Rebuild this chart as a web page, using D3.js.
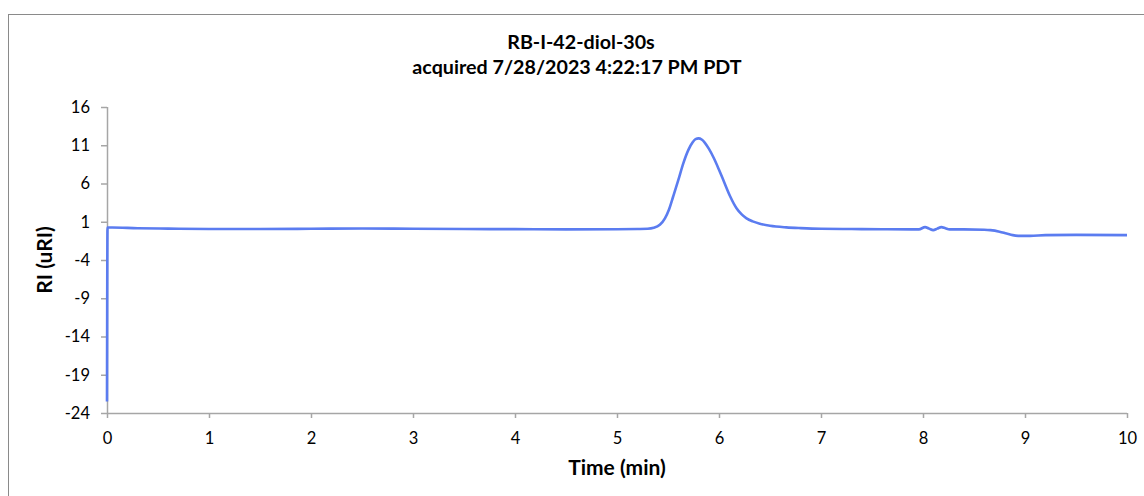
<!DOCTYPE html>
<html>
<head>
<meta charset="utf-8">
<script src="https://cdn.jsdelivr.net/npm/d3@7"></script>
<style>
  html, body { margin: 0; padding: 0; background: #fff; }
  svg { display: block; font-family: Lato, "Open Sans", sans-serif; }
</style>
</head>
<body>
<svg id="chart" width="1144" height="496"></svg>
<script>
const titleLines = ["RB-I-42-diol-30s", "acquired 7/28/2023 4:22:17 PM PDT"];
const xLabel = "Time (min)";
const yLabel = "RI (uRI)";
const xTicks = [0,1,2,3,4,5,6,7,8,9,10];
const yTicks = [16,11,6,1,-4,-9,-14,-19,-24];

const time = [0, 0.005, 0.05, 0.3, 0.6, 1.0, 1.5, 2.0, 2.5, 3.0, 3.5, 4.0, 4.5, 5.0, 5.2, 5.3,
  5.36, 5.42, 5.47, 5.51, 5.55, 5.60, 5.65, 5.70, 5.74, 5.77, 5.80, 5.83, 5.86, 5.90, 5.95, 6.00, 6.05,
  6.11, 6.17, 6.22, 6.27, 6.33, 6.40, 6.50, 6.66, 6.80, 7.00, 7.30, 7.60, 7.90, 7.96, 8.02, 8.06,
  8.10, 8.14, 8.18, 8.22, 8.26, 8.40, 8.60, 8.66, 8.75, 8.82, 8.88, 8.95, 9.05, 9.20, 9.50, 10.0];
const ri = [-22.5, 0.25, 0.25, 0.15, 0.1, 0.05, 0.05, 0.08, 0.12, 0.08, 0.05, 0.03, 0.0, 0.02, 0.05, 0.08,
  0.2, 0.6, 1.45, 2.6, 4.27, 6.4, 8.64, 10.4, 11.35, 11.8, 11.9, 11.75, 11.35, 10.55, 9.3, 7.8, 6.2,
  4.3, 2.8, 2.0, 1.45, 1.05, 0.75, 0.48, 0.27, 0.17, 0.08, 0.05, 0.02, 0.0, 0.0, 0.3, 0.1,
  -0.1, 0.1, 0.3, 0.15, 0.0, 0.0, -0.05, -0.1, -0.3, -0.55, -0.75, -0.85, -0.85, -0.75, -0.72, -0.75];

const data = time.map((t, i) => ({t, v: ri[i]}));

const svg = d3.select("#chart");
const axisColor = "#a6a6a6";
const fontFam = "Lato, 'Open Sans', sans-serif";

// outer border
svg.append("rect")
  .attr("x", 8.5).attr("y", 14.5)
  .attr("width", 1150).attr("height", 500)
  .attr("fill", "#fff").attr("stroke", "#8a8a8a").attr("stroke-width", 1);

const x = d3.scaleLinear().domain([0, 10]).range([107, 1127]);
const y = d3.scaleLinear().domain([-24, 16]).range([413, 107]);

const fmt = d => String(d);

const yAxis = svg.append("g").attr("transform", `translate(${x(0)},0)`)
  .call(d3.axisLeft(y).tickValues(yTicks).tickSize(6).tickPadding(11).tickFormat(fmt));
const xAxis = svg.append("g").attr("transform", `translate(0,${y(-24)})`)
  .call(d3.axisBottom(x).tickValues(xTicks).tickSize(5).tickPadding(14).tickFormat(fmt));

[xAxis, yAxis].forEach(g => {
  g.select(".domain").attr("stroke", axisColor).attr("stroke-width", 1.5);
  g.selectAll(".tick line").attr("stroke", axisColor).attr("stroke-width", 1.5);
  g.selectAll(".tick text").attr("fill", "#000").attr("font-size", 16.5)
    .attr("font-family", fontFam);
});
yAxis.select(".domain").attr("d", `M0.5,${y(16)}V${y(-24)}`);
xAxis.select(".domain").attr("d", `M${x(0)},0.5H${x(10)}`);

const line = d3.line().x(d => x(d.t)).y(d => y(d.v)).curve(d3.curveMonotoneX);
svg.append("path").datum(data)
  .attr("d", line)
  .attr("fill", "none")
  .attr("stroke", "#5b7cf0")
  .attr("stroke-width", 2.6)
  .attr("stroke-linejoin", "round");

svg.append("text")
  .attr("x", 581).attr("y", 49)
  .attr("text-anchor", "middle")
  .attr("font-weight", "bold").attr("font-size", 19.7)
  .text(titleLines[0]);
svg.append("text")
  .attr("x", 577).attr("y", 74)
  .attr("text-anchor", "middle")
  .attr("font-weight", "bold").attr("font-size", 19.7)
  .text(titleLines[1]);

svg.append("text")
  .attr("x", 617).attr("y", 475)
  .attr("text-anchor", "middle")
  .attr("font-weight", "bold").attr("font-size", 21)
  .text(xLabel);
svg.append("text")
  .attr("transform", "translate(52,260) rotate(-90)")
  .attr("text-anchor", "middle")
  .attr("font-weight", "bold").attr("font-size", 21)
  .text(yLabel);
</script>
</body>
</html>
